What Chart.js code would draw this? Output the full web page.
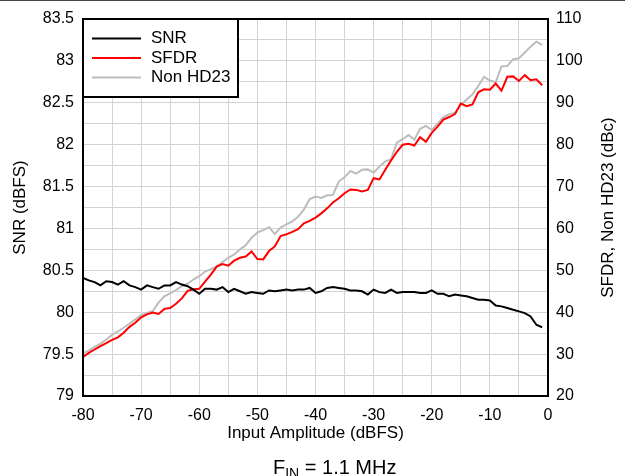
<!DOCTYPE html>
<html>
<head>
<meta charset="utf-8">
<script src="https://cdn.jsdelivr.net/npm/chart.js@4.4.0/dist/chart.umd.min.js"></script>
<style>
  html, body { margin: 0; padding: 0; background: #fff; }
  #wrap { position: relative; width: 625px; height: 476px; }
  #topline { position: absolute; left: 0; top: 0; width: 625px; height: 1px; background: #444; }
  #sub { position: absolute; left: 273px; top: 457px; font: 20px "Liberation Sans", Arial, sans-serif; line-height: 20px; color: #000; white-space: nowrap; }
  #sub sub { font-size: 14px; vertical-align: baseline; position: relative; top: 4px; }
</style>
</head>
<body>
<div id="wrap">
  <canvas id="chart" width="625" height="476"></canvas>
  <div id="topline"></div>
  <div id="sub">F<sub>IN</sub> = 1.1 MHz</div>
</div>
<script>
// Input amplitude (dBFS), one point per dB
const amplitude = [
  -80, -79, -78, -77, -76, -75, -74, -73, -72, -71,
  -70, -69, -68, -67, -66, -65, -64, -63, -62, -61,
  -60, -59, -58, -57, -56, -55, -54, -53, -52, -51,
  -50, -49, -48, -47, -46, -45, -44, -43, -42, -41,
  -40, -39, -38, -37, -36, -35, -34, -33, -32, -31,
  -30, -29, -28, -27, -26, -25, -24, -23, -22, -21,
  -20, -19, -18, -17, -16, -15, -14, -13, -12, -11,
  -10, -9, -8, -7, -6, -5, -4, -3, -2, -1
];

// SNR (dBFS), left axis
const snr = [
  80.41, 80.38, 80.36, 80.32, 80.37, 80.36, 80.33, 80.37, 80.32, 80.30,
  80.27, 80.32, 80.30, 80.28, 80.32, 80.32, 80.36, 80.33, 80.31, 80.27,
  80.22, 80.28, 80.28, 80.27, 80.30, 80.24, 80.28, 80.25, 80.22, 80.24,
  80.23, 80.22, 80.26, 80.25, 80.26, 80.27, 80.26, 80.27, 80.27, 80.29,
  80.23, 80.25, 80.29, 80.30, 80.29, 80.28, 80.26, 80.26, 80.25, 80.21,
  80.27, 80.24, 80.23, 80.27, 80.23, 80.24, 80.24, 80.24, 80.23, 80.23,
  80.26, 80.22, 80.22, 80.19, 80.21, 80.20, 80.19, 80.17, 80.15, 80.15,
  80.14, 80.08, 80.07, 80.05, 80.03, 80.01, 79.99, 79.95, 79.85, 79.82
];

// SFDR (dBc), right axis
const sfdr = [
  29.3, 30.3, 31.1, 31.9, 32.6, 33.4, 34.0, 35.1, 36.5, 37.5,
  38.8, 39.5, 39.9, 39.6, 40.8, 41.0, 42.0, 43.3, 45.1, 45.5,
  45.6, 47.3, 49.0, 50.9, 51.5, 51.1, 52.3, 53.0, 53.3, 54.5,
  52.7, 52.6, 54.6, 55.7, 58.2, 58.6, 59.2, 59.8, 61.2, 61.8,
  62.6, 63.6, 64.8, 66.2, 67.2, 68.4, 69.3, 69.2, 68.8, 69.2,
  72.0, 71.7, 74.0, 76.2, 78.3, 80.0, 80.2, 79.8, 81.8, 80.7,
  82.8, 84.3, 86.0, 86.6, 87.3, 89.8, 89.2, 89.6, 92.5, 93.2,
  93.1, 94.6, 92.9, 96.2, 96.3, 95.2, 96.6, 95.4, 95.6, 94.2
];

// Non HD23 (dBc), right axis
const nonHd23 = [
  30.2, 30.9, 31.7, 32.5, 33.5, 34.6, 35.4, 36.3, 37.3, 38.3,
  39.3, 39.8, 40.3, 42.3, 43.8, 44.5, 45.3, 46.2, 46.8, 47.8,
  48.6, 49.7, 50.3, 50.9, 52.0, 53.0, 53.8, 55.0, 56.0, 57.8,
  59.0, 59.6, 60.3, 58.7, 60.2, 61.0, 61.7, 62.8, 64.5, 67.0,
  67.6, 67.3, 67.9, 68.0, 71.2, 72.2, 73.7, 73.1, 74.0, 74.1,
  73.3, 74.8, 76.0, 76.5, 80.5, 81.3, 82.3, 81.2, 83.8, 84.5,
  83.5, 85.0, 86.6, 87.3, 87.6, 89.5, 90.8, 92.0, 94.0, 96.2,
  95.3, 94.9, 98.7, 98.8, 100.4, 100.6, 102.0, 103.4, 104.6, 103.8
];

const seriesNames = ['SNR', 'SFDR', 'Non HD23'];
const seriesColors = ['#000000', '#ff0000', '#bdbdbd'];

const FONT = '"Liberation Sans", Arial, sans-serif';
Chart.defaults.font.family = FONT;
Chart.defaults.color = '#000';

const toPoints = (vals) => amplitude.map((a, i) => ({ x: a, y: vals[i] }));

// Frame around the plot, the boxed legend and the right axis title
const frameAndLegend = {
  id: 'frameAndLegend',
  afterDatasetsDraw: (chart) => {
    const { ctx, chartArea: { left, top, right, bottom } } = chart;
    ctx.save();
    ctx.strokeStyle = '#000';
    ctx.lineWidth = 2;
    ctx.strokeRect(left, top, right - left, bottom - top);

    // legend box in the top-left corner
    ctx.fillStyle = '#fff';
    ctx.fillRect(left, top, 155, 78);
    ctx.strokeRect(left, top, 155, 78);
    ctx.font = `17px ${FONT}`;
    ctx.textAlign = 'left';
    ctx.textBaseline = 'middle';
    chart.data.datasets.forEach((ds, i) => {
      const y = top + 19.5 + i * 19.5;
      ctx.strokeStyle = ds.borderColor;
      ctx.beginPath();
      ctx.moveTo(left + 9, y);
      ctx.lineTo(left + 58, y);
      ctx.stroke();
      ctx.fillStyle = '#000';
      ctx.fillText(ds.label, left + 68, y);
    });

    // right axis title reads bottom-to-top like the left one
    ctx.translate(608, (top + bottom) / 2);
    ctx.rotate(-Math.PI / 2);
    ctx.textAlign = 'center';
    ctx.fillText('SFDR, Non HD23 (dBc)', 0, 0);
    ctx.restore();
  }
};

new Chart(document.getElementById('chart').getContext('2d'), {
  type: 'line',
  data: {
    datasets: [
      { label: seriesNames[0], data: toPoints(snr), yAxisID: 'y', borderColor: seriesColors[0] },
      { label: seriesNames[1], data: toPoints(sfdr), yAxisID: 'y2', borderColor: seriesColors[1] },
      { label: seriesNames[2], data: toPoints(nonHd23), yAxisID: 'y2', borderColor: seriesColors[2] }
    ]
  },
  options: {
    responsive: false,
    animation: false,
    layout: { padding: { top: 19, left: 0, right: 0, bottom: 0 } },
    elements: { point: { radius: 0 }, line: { borderWidth: 2, tension: 0 } },
    plugins: { legend: { display: false }, tooltip: { enabled: false } },
    scales: {
      x: {
        type: 'linear',
        min: -80, max: 0,
        afterFit: (s) => { s.height = 80; },
        border: { display: false },
        grid: { color: '#d3d3d3', lineWidth: 1, drawTicks: false },
        ticks: {
          stepSize: 5, padding: 10, maxRotation: 0, autoSkip: false,
          font: { size: 16 },
          callback: (v) => (v % 10 === 0 ? String(v) : '')
        },
        title: { display: true, text: 'Input Amplitude (dBFS)', font: { size: 17 }, padding: { top: 0, bottom: 32 } }
      },
      y: {
        position: 'left',
        min: 79, max: 83.5,
        afterFit: (s) => { s.width = 83; },
        border: { display: false },
        grid: { color: '#d3d3d3', lineWidth: 1, drawTicks: false },
        ticks: {
          stepSize: 0.25, padding: 9, autoSkip: false,
          font: { size: 16 },
          callback: (v) => (Math.abs(v * 2 - Math.round(v * 2)) < 1e-6 ? String(v) : '')
        },
        title: { display: true, text: 'SNR (dBFS)', font: { size: 17 }, padding: { top: 10, bottom: 0 } }
      },
      y2: {
        position: 'right',
        min: 20, max: 110,
        afterFit: (s) => { s.width = 77; },
        border: { display: false },
        grid: { display: false, drawTicks: false },
        ticks: {
          stepSize: 5, padding: 8, autoSkip: false,
          font: { size: 16 },
          callback: (v) => (v % 10 === 0 ? String(v) : '')
        }
      }
    }
  },
  plugins: [frameAndLegend]
});
</script>
</body>
</html>
